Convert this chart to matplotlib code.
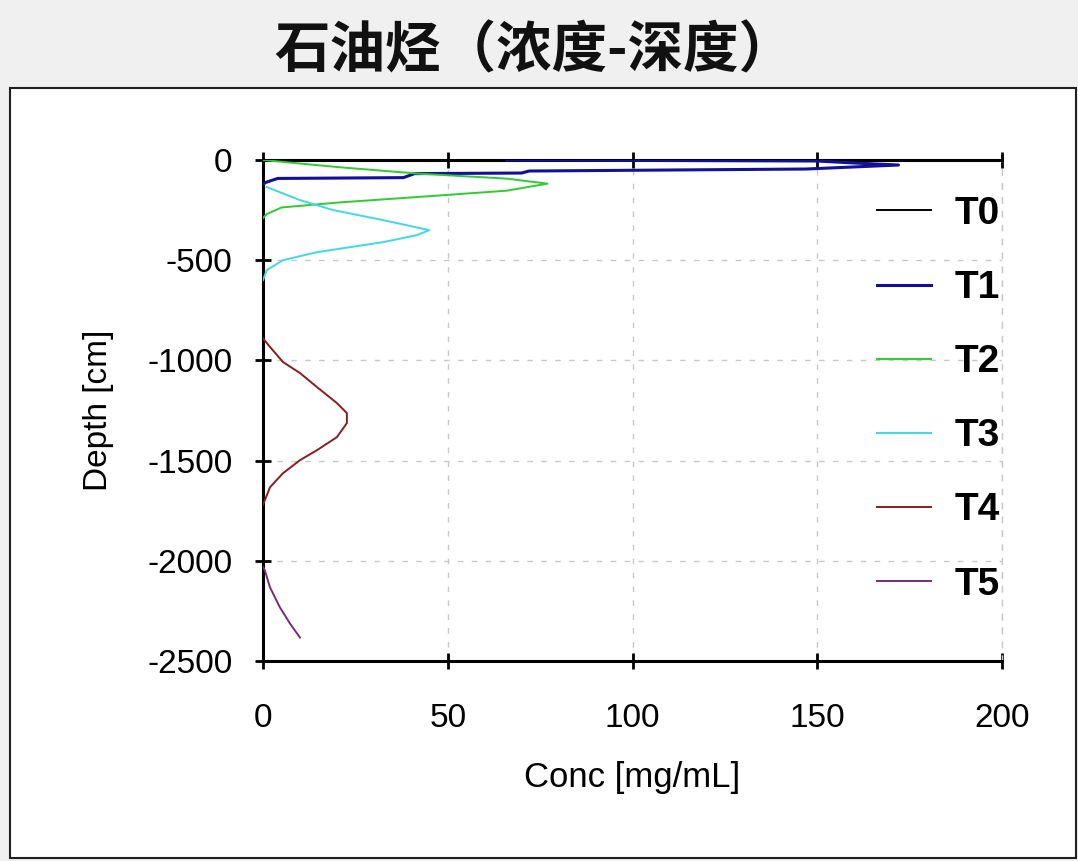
import matplotlib
matplotlib.use("Agg")
import matplotlib.pyplot as plt
from matplotlib.patches import Rectangle

plt.rcParams['font.family'] = ['Liberation Sans', 'DejaVu Sans']
plt.rcParams['axes.unicode_minus'] = False

# ---- data ----
series_names = ["T0", "T1", "T2", "T3", "T4", "T5"]
series_colors = ["#000000", "#10109a", "#2ecc2e", "#40d8e8", "#8a1c1c", "#7a2a78"]

t0_conc = [0, 0]
t0_depth = [0, -2500]

t1_conc = [66, 150, 160, 172, 147, 72, 70, 41, 38, 4, 1, 0]
t1_depth = [0, -5, -15, -25, -45, -55, -65, -68, -88, -92, -110, -120]

t2_conc = [0, 20, 42, 66, 77, 66, 47, 20.5, 5, 1, 0]
t2_depth = [0, -35, -68, -93, -118, -153, -178, -212, -237, -270, -290]

t3_conc = [1, 10, 19, 32.5, 45, 41.6, 32.5, 14.6, 5.4, 1, 0]
t3_depth = [-135, -200, -250, -300, -350, -375, -410, -460, -500, -550, -600]

t4_conc = [0, 1.9, 5.4, 10, 14.6, 20, 22.7, 22.7, 20, 14.6, 10, 5.4, 1.9, 0.5, 0]
t4_depth = [-890, -933, -1008, -1063, -1133, -1213, -1263, -1313, -1383, -1448,
            -1498, -1563, -1633, -1698, -1720]

t5_conc = [0, 0.5, 1.9, 4.6, 7.3, 10]
t5_depth = [-2030, -2048, -2133, -2233, -2313, -2383]

x_ticks = [0, 50, 100, 150, 200]
y_ticks = [0, -500, -1000, -1500, -2000, -2500]

title_text = "石油烃（浓度-深度）"
x_label = "Conc [mg/mL]"
y_label = "Depth [cm]"

# ---- figure ----
W, H = 1078, 861
fig = plt.figure(figsize=(W / 100, H / 100), dpi=100, facecolor="#f0f0f0")

# white framed panel (behind everything)
panel = Rectangle((10 / W, 1 - 858 / H), (1076 - 10) / W, (858 - 88) / H,
                  transform=fig.transFigure, facecolor="white",
                  edgecolor="#202020", linewidth=1.5, zorder=-10)
fig.add_artist(panel)

ax = fig.add_axes([263 / W, 1 - 661 / H, (1002 - 263) / W, (661 - 160) / H])
ax.set_zorder(5)
ax.set_facecolor("none")

data = [(t0_conc, t0_depth), (t1_conc, t1_depth), (t2_conc, t2_depth),
        (t3_conc, t3_depth), (t4_conc, t4_depth), (t5_conc, t5_depth)]
for (c, d), name, col in zip(data, series_names, series_colors):
    lw = 2.2 if name == "T1" else 1.4
    ax.plot(c, d, color=col, lw=lw, label=name, zorder=3)

ax.set_xlim(0, 200)
ax.set_ylim(-2500, 0)
ax.set_xticks(x_ticks)
ax.set_yticks(y_ticks)
ax.set_xticklabels([str(v) for v in x_ticks])
ax.set_yticklabels([str(v) for v in y_ticks])

ax.grid(True, color="#c8c8c8", linestyle=(0, (4, 6)), linewidth=1.0, zorder=1)

for s in ["left", "bottom", "top"]:
    ax.spines[s].set_color("black")
    ax.spines[s].set_linewidth(2.2)
ax.spines["right"].set_color("#c8c8c8")
ax.spines["right"].set_linestyle((0, (4, 6)))
ax.spines["right"].set_linewidth(1.0)

ax.tick_params(axis="both", direction="inout", length=12, width=2, labelsize=24,
               color="black")
ax.tick_params(axis="x", top=True, pad=24)
ax.tick_params(axis="y", pad=16)

ax.set_xlabel(x_label, fontsize=25, labelpad=20)
ax.set_ylabel(y_label, fontsize=24, labelpad=24)

leg = ax.legend(loc="upper right", bbox_to_anchor=(1000 / W, 1 - 196 / H),
                bbox_transform=fig.transFigure, frameon=False,
                prop={"size": 28, "weight": "bold"}, handlelength=1.4,
                handletextpad=0.6, labelspacing=0.98, borderpad=0, borderaxespad=0)

fig.text(534 / W, 1 - 51 / H, title_text, ha="center", va="center", fontsize=40,
         fontweight="bold", family=["Noto Sans CJK SC", "DejaVu Sans"], color="#111111")

fig.savefig("out.png", dpi=100, facecolor=fig.get_facecolor())
